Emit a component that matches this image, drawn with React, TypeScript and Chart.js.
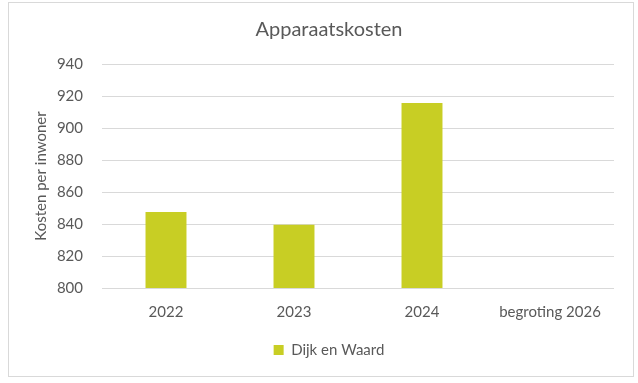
import React, { useEffect, useRef } from "react";
import { Chart, registerables } from "chart.js";

Chart.register(...registerables);

const categories = ["2022", "2023", "2024", "begroting 2026"];
const seriesLabel = "Dijk en Waard";
const seriesValues: (number | null)[] = [847.5, 839.5, 915.6, null];
const yTicks = [800, 820, 840, 860, 880, 900, 920, 940];

const TEXT = "#595959";
const GRID = "#d9d9d9";
const BAR = "#c8ce24";
const FONT = "Lato, 'Noto Sans', sans-serif";

export default function App() {
  const ref = useRef<HTMLCanvasElement | null>(null);

  useEffect(() => {
    if (!ref.current) return;
    const chart = new Chart(ref.current, {
      type: "bar",
      data: {
        labels: categories,
        datasets: [
          {
            label: seriesLabel,
            data: seriesValues,
            backgroundColor: BAR,
            borderWidth: 0,
            categoryPercentage: 1,
            barPercentage: 0.32,
          },
        ],
      },
      options: {
        responsive: false,
        animation: false,
        devicePixelRatio: 1,
        layout: { padding: { left: 16, right: 0, top: 0, bottom: 8.5 } },
        plugins: {
          title: {
            display: true,
            text: "Apparaatskosten",
            color: TEXT,
            font: { family: FONT, size: 20, weight: "normal" },
            padding: { top: 14.5, bottom: 22.5 },
          },
          legend: {
            position: "bottom",
            labels: {
              color: TEXT,
              font: { family: FONT, size: 15 },
              boxWidth: 10,
              boxHeight: 10,
              padding: 10,
            },
          },
          tooltip: { enabled: false },
        },
        scales: {
          x: {
            grid: { display: false, drawTicks: false },
            border: { display: false },
            ticks: {
              color: TEXT,
              font: { family: FONT, size: 15 },
              padding: 15,
              maxRotation: 0,
            },
            afterFit: (s: any) => {
              s.height = 44.5;
            },
          },
          y: {
            min: yTicks[0],
            max: yTicks[yTicks.length - 1],
            grid: { color: GRID, drawTicks: false, lineWidth: 1 },
            border: { display: false },
            ticks: {
              stepSize: yTicks[1] - yTicks[0],
              color: TEXT,
              font: { family: FONT, size: 15 },
              padding: 19,
            },
            title: {
              display: true,
              text: "Kosten per inwoner",
              color: TEXT,
              font: { family: FONT, size: 15 },
              padding: { top: 7, bottom: 0 },
            },
            afterFit: (s: any) => {
              s.width = 77;
            },
          },
          y2: {
            type: "linear",
            position: "right",
            display: true,
            grid: { display: false, drawTicks: false },
            border: { display: false },
            ticks: { display: false },
            afterFit: (s: any) => {
              s.width = 19;
            },
          },
        },
      },
    } as any);
    return () => chart.destroy();
  }, []);

  return (
    <div
      style={{
        position: "absolute",
        left: 8,
        top: 2,
        width: 626,
        height: 375,
        border: "1px solid #d9d9d9",
        boxSizing: "border-box",
        background: "#fff",
      }}
    >
      <canvas ref={ref} width={624} height={373} style={{ display: "block" }} />
    </div>
  );
}
